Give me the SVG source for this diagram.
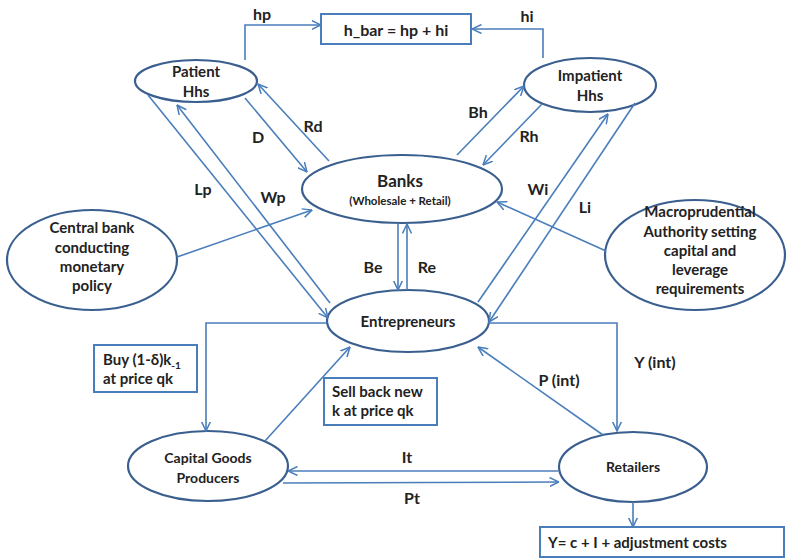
<svg xmlns="http://www.w3.org/2000/svg" width="788" height="560" viewBox="0 0 788 560">
<defs>
<marker id="arr" viewBox="0 0 10 10" refX="9.5" refY="5" markerWidth="10" markerHeight="10" markerUnits="userSpaceOnUse" orient="auto">
<path d="M0,0.5 L9.5,5 L0,9.5" fill="none" stroke="#4A7EBB" stroke-width="1.5"/>
</marker>
<style>
.n{fill:#fff;stroke:#3A5F8F;stroke-width:2.2}
.b{fill:#fff;stroke:#4A7EBB;stroke-width:2}
.c{fill:none;stroke:#4A7EBB;stroke-width:1.6}
.a{marker-end:url(#arr)}
text{font-family:Lato,"Liberation Sans",sans-serif;font-weight:bold;fill:#222}
.t{font-size:15px;text-anchor:middle}
.s{font-size:14px;text-anchor:middle}
.l{font-size:16px;text-anchor:middle}
.x{font-size:15px}
</style>
</defs>
<rect width="788" height="560" fill="#fff"/>
<g id="patient"><ellipse class="n" cx="196" cy="81" rx="61" ry="21"/><text class="t" x="196" y="77">Patient</text><text class="t" x="196" y="97">Hhs</text></g>
<g id="impatient"><ellipse class="n" cx="590" cy="85" rx="66" ry="27"/><text class="t" x="590" y="81">Impatient</text><text class="t" x="590" y="101">Hhs</text></g>
<g id="banks"><ellipse class="n" cx="402" cy="189" rx="100" ry="34"/><text class="t" x="400" y="187" style="font-size:17px">Banks</text><text class="t" x="400" y="205" style="font-size:11.5px">(Wholesale + Retail)</text></g>
<g id="entrepreneurs"><ellipse class="n" cx="408" cy="321" rx="81" ry="31"/><text class="t" x="408" y="327">Entrepreneurs</text></g>
<g id="central"><ellipse class="n" cx="92" cy="260" rx="85" ry="50"/><text class="t" x="92" y="233">Central bank</text><text class="t" x="92" y="253">conducting</text><text class="t" x="92" y="272">monetary</text><text class="t" x="92" y="291">policy</text></g>
<g id="macro"><ellipse class="n" cx="695" cy="255" rx="90" ry="55"/><text class="t" x="700" y="217">Macroprudential</text><text class="t" x="700" y="237">Authority setting</text><text class="t" x="700" y="256">capital and</text><text class="t" x="700" y="275">leverage</text><text class="t" x="700" y="294">requirements</text></g>
<g id="capital"><ellipse class="n" cx="208" cy="466" rx="80" ry="35"/><text class="s" x="208" y="463">Capital Goods</text><text class="s" x="208" y="483">Producers</text></g>
<g id="retailers"><ellipse class="n" cx="633" cy="467" rx="74" ry="35"/><text class="s" x="633" y="472">Retailers</text></g>
<g id="hbar"><rect class="b" x="321" y="14" width="150" height="30"/><text class="l" x="396" y="36">h_bar = hp + hi</text></g>
<g id="ybox"><rect class="b" x="540" y="527" width="244" height="30"/><text class="x" x="548" y="548">Y= c + I + adjustment costs</text></g>
<g id="buy"><rect class="b" x="94" y="345" width="103" height="47"/><text class="x" x="103" y="365">Buy (1-δ)k<tspan dy="4" style="font-size:10px">-1</tspan></text><text class="x" x="103" y="384">at price qk</text></g>
<g id="sell"><rect class="b" x="324" y="378" width="113" height="47"/><text class="x" x="332" y="397">Sell back new</text><text class="x" x="332" y="416">k at price qk</text></g>
<g id="connectors">
<path class="c a" d="M245,60 V25 H321"/>
<path class="c a" d="M543,58 V29 H472"/>
<path class="c a" d="M245,98 L307,172"/>
<path class="c a" d="M329,161 L258,84"/>
<path class="c a" d="M148,95 L328,318"/>
<path class="c a" d="M330,303 L177,105"/>
<path class="c a" d="M177,257 L312,210"/>
<path class="c a" d="M457,155 L524,86"/>
<path class="c a" d="M542,104 L483,165"/>
<path class="c a" d="M478,302 L608,114"/>
<path class="c a" d="M635,103 L489,322"/>
<path class="c a" d="M606,251 L497,202"/>
<path class="c a" d="M398,223 V290"/>
<path class="c a" d="M407,290 V224"/>
<path class="c a" d="M327,323 H206 V431"/>
<path class="c a" d="M265,441 L350,347"/>
<path class="c a" d="M488,323 H617 V431"/>
<path class="c a" d="M603,435 L478,347"/>
<path class="c a" d="M558,471 L288,471"/>
<path class="c a" d="M283,483 L559,482"/>
<path class="c a" d="M633,502 V527"/>
</g>
<g id="labels">
<text class="l" x="262" y="20">hp</text>
<text class="l" x="527" y="22">hi</text>
<text class="l" x="258" y="143">D</text>
<text class="l" x="313" y="132">Rd</text>
<text class="l" x="203" y="195">Lp</text>
<text class="l" x="273" y="203">Wp</text>
<text class="l" x="478" y="118">Bh</text>
<text class="l" x="529" y="142">Rh</text>
<text class="l" x="538" y="195">Wi</text>
<text class="l" x="585" y="213">Li</text>
<text class="l" x="373" y="273">Be</text>
<text class="l" x="427" y="273">Re</text>
<text class="l" x="559" y="386">P (int)</text>
<text class="l" x="655" y="368">Y (int)</text>
<text class="l" x="407" y="463">It</text>
<text class="l" x="412" y="504">Pt</text>
</g>
</svg>
